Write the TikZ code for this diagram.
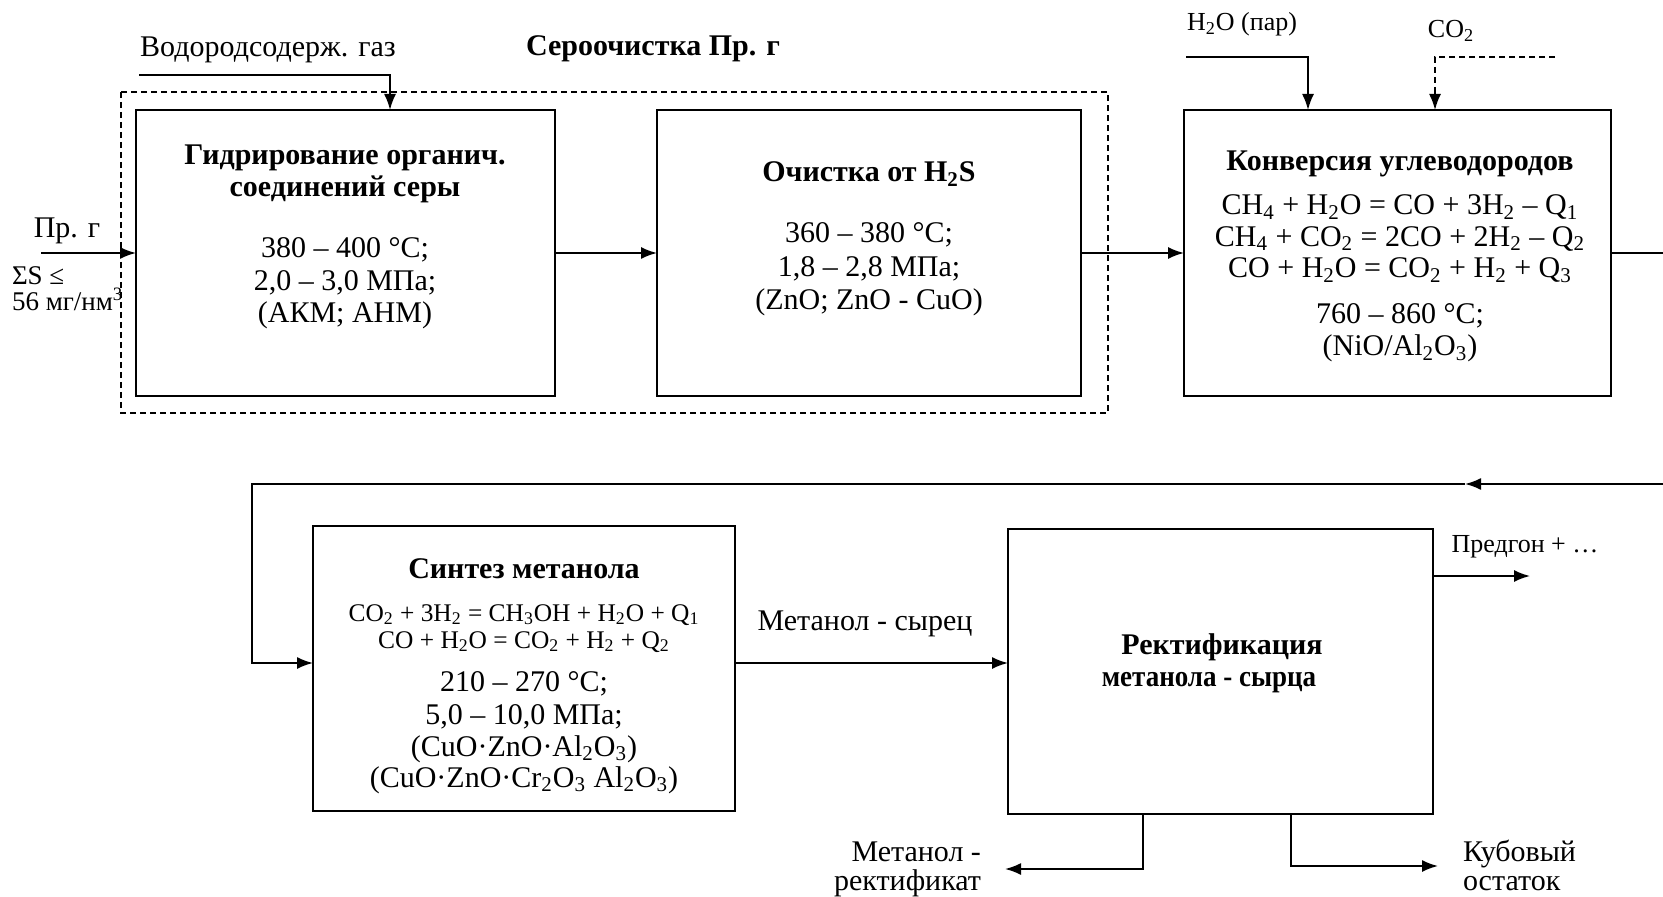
\documentclass[tikz,border=0pt]{standalone}
\usepackage{fontspec}
\setmainfont{Liberation Serif}
\newfontfamily\narrowserif[FakeStretch=0.9]{Liberation Serif}
\usetikzlibrary{arrows.meta}
\newcommand{\ssub}[1]{\textsubscript{#1}}
\begin{document}
\begin{tikzpicture}[x=0.5pt,y=-0.5pt,
  every node/.style={inner sep=0pt,outer sep=0pt},
  box/.style={draw,line width=0.9pt,minimum height=143pt},
  line/.style={line width=0.9pt},
  dline/.style={line width=0.8pt,dash pattern=on 3pt off 2pt},
  arr/.style={line width=0.9pt,-{Latex[length=8pt,width=6pt]}},
  txt/.style={font=\fontsize{15}{16.5}\selectfont,anchor=base},
  btxt/.style={font=\fontsize{15}{16.5}\selectfont\bfseries,anchor=base},
  etxt/.style={font=\fontsize{12.7}{14}\selectfont,anchor=base},
  stxt/.style={font=\fontsize{13}{15}\selectfont,anchor=base},
  ltxt/.style={font=\fontsize{13.5}{15}\selectfont,anchor=base west}
]
\useasboundingbox (0,0) rectangle (1663,897);

% dashed group
\draw[dline] (121,92) rectangle (1108,413);
\node[btxt] (tsero) at (653,56) {Сероочистка Пр. г};

% boxes
\node[box,minimum width=209.5pt] (b1) at (345.5,253) {};
\node[box,minimum width=212pt] (b2) at (869,253) {};
\node[box,minimum width=213.5pt] (b3) at (1397.5,253) {};
\node[box,minimum width=211pt,minimum height=142.5pt] (b4) at (524,668.5) {};
\node[box,minimum width=212.5pt,minimum height=142.5pt] (b5) at (1220.5,671.5) {};

% box 1 text
\node[btxt] (t1a) at (345,165) {Гидрирование органич.};
\node[btxt] (t1b) at (345,197) {соединений серы};
\node[txt] (t1c) at (345,258) {380 – 400 °C;};
\node[txt] (t1d) at (345,290.5) {2,0 – 3,0 МПа;};
\node[txt] (t1e) at (345,323) {(АКМ; АНМ)};

% box 2 text
\node[btxt] (t2a) at (869,182) {Очистка от H\ssub{2}S};
\node[txt] (t2b) at (869,243) {360 – 380 °C;};
\node[txt] (t2c) at (869,276.5) {1,8 – 2,8 МПа;};
\node[txt] (t2d) at (869,310) {(ZnO; ZnO - CuO)};

% box 3 text
\node[btxt] (t3a) at (1400,171) {Конверсия углеводородов};
\node[txt] (t3b) at (1400,215) {CH\ssub{4} + H\ssub{2}O = CO + 3H\ssub{2} – Q\ssub{1}};
\node[txt] (t3c) at (1400,246.5) {CH\ssub{4} + CO\ssub{2} = 2CO + 2H\ssub{2} – Q\ssub{2}};
\node[txt] (t3d) at (1400,278) {CO + H\ssub{2}O = CO\ssub{2} + H\ssub{2} + Q\ssub{3}};
\node[txt] (t3e) at (1400,324) {760 – 860 °C;};
\node[txt] (t3f) at (1400,356) {(NiO/Al\ssub{2}O\ssub{3})};

% box 4 text
\node[btxt] (t4a) at (524,578) {Синтез метанола};
\node[etxt] (t4b) at (524,621) {CO\ssub{2} + 3H\ssub{2} = CH\ssub{3}OH + H\ssub{2}O + Q\ssub{1}};
\node[etxt] (t4c) at (524,648) {CO + H\ssub{2}O = CO\ssub{2} + H\ssub{2} + Q\ssub{2}};
\node[txt] (t4d) at (524,691) {210 – 270 °C;};
\node[txt] (t4e) at (524,724) {5,0 – 10,0 МПа;};
\node[txt] (t4f) at (524,756) {(CuO·ZnO·Al\ssub{2}O\ssub{3})};
\node[txt] (t4g) at (524,787) {(CuO·ZnO·Cr\ssub{2}O\ssub{3} Al\ssub{2}O\ssub{3})};

% box 5 text
\node[btxt] (t5a) at (1222,654) {Ректификация};
\node[btxt,font=\fontsize{15}{16.5}\narrowserif\bfseries] (t5b) at (1209,686) {метанола - сырца};

% feed
\node[txt] (lpr) at (67,238) {Пр. г};
\node[ltxt] (ls1) at (12,285) {ΣS ≤};
\node[ltxt] (ls2) at (12,311) {56 мг/нм\textsuperscript{3}};
\coordinate (in0) at (41,253);
\draw[arr] (in0) -- (b1.west);

% hydrogen gas
\node[txt] (lh) at (268,57) {Водородсодерж. газ};
\coordinate (h0) at (139,75);
\coordinate (h1) at (390,75);
\draw[arr] (h0) -- (h1) -- (h1 |- b1.north);

% box links
\draw[arr] (b1.east) -- (b2.west);
\draw[arr] (b2.east) -- (b3.west);

% steam and CO2
\node[stxt] (lw) at (1242,31) {H\ssub{2}O (пар)};
\coordinate (w0) at (1186,57);
\coordinate (w1) at (1308,57);
\draw[arr] (w0) -- (w1) -- (w1 |- b3.north);
\node[stxt] (lc) at (1451,38) {CO\ssub{2}};
\coordinate (c0) at (1555,57);
\coordinate (c1) at (1435,57);
\draw[dline] (c0) -- (c1) -- ([yshift=9pt]c1 |- b3.north);
\draw[arr] ([yshift=9pt]c1 |- b3.north) -- (c1 |- b3.north);

% outlet and recycle
\coordinate (o3) at (1663,253);
\draw[line] (b3.east) -- (o3);
\coordinate (o4) at (1663,484);
\coordinate (rm) at (1465,484);
\coordinate (r1) at (252,484);
\coordinate (r2) at (252,663);
\draw[arr] (o4) -- (rm);
\draw[arr] (rm) -- (r1) -- (r2) -- (b4.west |- r2);

% synthesis to rectification
\draw[arr] (b4.east |- r2) -- (b5.west |- r2);
\node[txt] (lms) at (865,630) {Метанол - сырец};

% rectification outputs
\coordinate (p1) at (1530,576);
\draw[arr] (b5.east |- p1) -- (p1);
\node[stxt] (lp) at (1525,552) {Предгон + …};

\coordinate (m1) at (1143,869);
\coordinate (m2) at (1005,869);
\draw[arr] (m1 |- b5.south) -- (m1) -- (m2);
\node[txt,anchor=base east] (lmr1) at (981,861) {Метанол -};
\node[txt,anchor=base east] (lmr2) at (981,890) {ректификат};

\coordinate (k1) at (1291,866);
\coordinate (k2) at (1438,866);
\draw[arr] (k1 |- b5.south) -- (k1) -- (k2);
\node[txt,anchor=base west] (lk1) at (1463,861) {Кубовый};
\node[txt,anchor=base west] (lk2) at (1463,890) {остаток};
\end{tikzpicture}
\end{document}
